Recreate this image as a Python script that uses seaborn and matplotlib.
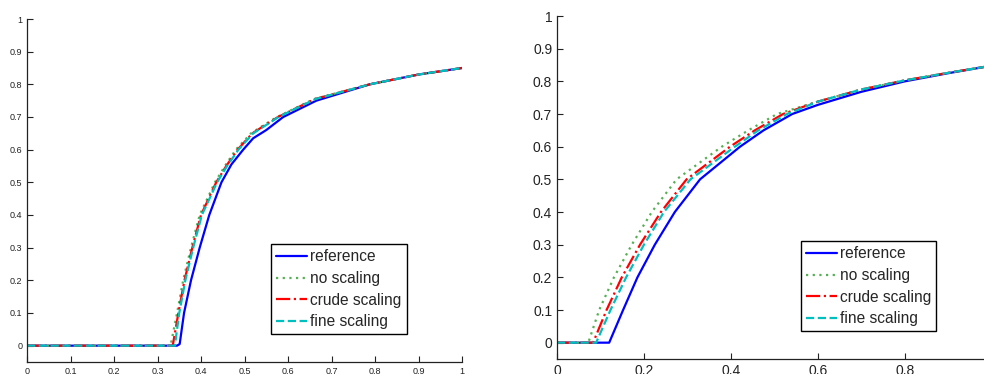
import numpy as np
import pandas as pd
import matplotlib
matplotlib.use('Agg')
import matplotlib.pyplot as plt
import seaborn as sns

LABELS = ['reference', 'no scaling', 'crude scaling', 'fine scaling']
COLORS = ['#0000ff', '#55b055', '#ff0000', '#00bfbf']
DASHES = ['-', (0, (1, 2)), '-.', '--']

# left panel
left_ref_x = [0, 0.345, 0.351, 0.361, 0.377, 0.397, 0.419, 0.447, 0.470, 0.497, 0.520, 0.550, 0.589, 0.665, 0.788, 0.9, 1.0]
left_ref_y = [0, 0, 0.005, 0.1, 0.2, 0.3, 0.4, 0.5, 0.555, 0.6, 0.635, 0.66, 0.7, 0.75, 0.8, 0.83, 0.85]
left_cmp_y = [0, 0, 0.1, 0.2, 0.3, 0.4, 0.5, 0.55, 0.6, 0.65, 0.68, 0.7, 0.755, 0.8, 0.83, 0.85]
left_no_x = [0, 0.330, 0.345, 0.359, 0.377, 0.397, 0.432, 0.455, 0.480, 0.515, 0.550, 0.575, 0.660, 0.788, 0.9, 1.0]
left_crude_x = [0, 0.335, 0.348, 0.362, 0.380, 0.400, 0.435, 0.458, 0.484, 0.518, 0.553, 0.577, 0.662, 0.788, 0.9, 1.0]
left_fine_x = [0, 0.340, 0.350, 0.364, 0.382, 0.402, 0.437, 0.460, 0.486, 0.520, 0.555, 0.578, 0.663, 0.788, 0.9, 1.0]

# right panel
right_ref_x = [0, 0.120, 0.152, 0.185, 0.225, 0.271, 0.329, 0.421, 0.475, 0.541, 0.6, 0.7, 0.8, 0.9, 1.0]
right_ref_y = [0, 0, 0.1, 0.2, 0.3, 0.4, 0.5, 0.6, 0.65, 0.7, 0.728, 0.768, 0.8, 0.825, 0.848]
right_cmp_y = [0, 0, 0.1, 0.2, 0.3, 0.4, 0.5, 0.6, 0.65, 0.7, 0.738, 0.775, 0.803, 0.826, 0.848]
right_no_x = [0, 0.072, 0.097, 0.131, 0.172, 0.218, 0.275, 0.379, 0.440, 0.506, 0.6, 0.7, 0.8, 0.9, 1.0]
right_crude_x = [0, 0.083, 0.114, 0.149, 0.191, 0.239, 0.298, 0.398, 0.455, 0.520, 0.6, 0.7, 0.8, 0.9, 1.0]
right_fine_x = [0, 0.090, 0.123, 0.159, 0.200, 0.246, 0.307, 0.409, 0.463, 0.529, 0.6, 0.7, 0.8, 0.9, 1.0]


def make_frame(ref_x, ref_y, cmp_y, no_x, crude_x, fine_x):
    parts = [pd.DataFrame({'x': ref_x, 'y': ref_y, 'method': LABELS[0]})]
    for lab, xs in zip(LABELS[1:], [no_x, crude_x, fine_x]):
        parts.append(pd.DataFrame({'x': xs, 'y': cmp_y, 'method': lab}))
    return pd.concat(parts, ignore_index=True)


sns.set_style('ticks')
plt.rcParams['font.family'] = ['Liberation Sans', 'DejaVu Sans']
plt.rcParams['xtick.direction'] = 'in'
plt.rcParams['ytick.direction'] = 'in'

fig = plt.figure(figsize=(9.84, 3.74), dpi=100)
ax1 = fig.add_axes([27 / 984, 1 - 362 / 374, 435 / 984, 343 / 374])
ax2 = fig.add_axes([557 / 984, 1 - 359 / 374, 427 / 984, 343 / 374])

panels = [
    (ax1, make_frame(left_ref_x, left_ref_y, left_cmp_y, left_no_x, left_crude_x, left_fine_x),
     1.0, np.arange(0, 1.01, 0.1), 6.5, 0.561),
    (ax2, make_frame(right_ref_x, right_ref_y, right_cmp_y, right_no_x, right_crude_x, right_fine_x),
     0.982, np.arange(0, 0.81, 0.2), 10, 0.571),
]

for ax, df, xmax, xticks, tfs, lx in panels:
    for lab, col, ls in zip(LABELS, COLORS, DASHES):
        sub = df[df['method'] == lab]
        sns.lineplot(data=sub, x='x', y='y', ax=ax, color=col, linestyle=ls,
                     linewidth=1.6, label=lab, estimator=None, sort=False)
    ax.set_xlim(0, xmax)
    ax.set_ylim(-0.05, 1)
    ax.set_xticks(xticks)
    ax.set_xticklabels(['%g' % t for t in xticks.round(1)])
    ax.set_yticks(np.arange(0, 1.01, 0.1))
    ax.set_yticklabels(['%g' % t for t in np.arange(0, 1.01, 0.1).round(1)])
    ax.tick_params(labelsize=tfs, length=4, width=0.8, colors='#222222')
    ax.set_xlabel('')
    ax.set_ylabel('')
    sns.despine(ax=ax)
    for s in ['left', 'bottom']:
        ax.spines[s].set_color('#222222')
        ax.spines[s].set_linewidth(0.9)
    leg = ax.legend(loc='upper left', bbox_to_anchor=(lx, 0.344), borderaxespad=0,
                    fontsize=11.2, frameon=True, fancybox=False, framealpha=1,
                    edgecolor='black', handlelength=1.95, handletextpad=0.2,
                    labelspacing=0.42, borderpad=0.35)
    leg.get_frame().set_linewidth(1.0)

fig.savefig('out.png', dpi=100)
